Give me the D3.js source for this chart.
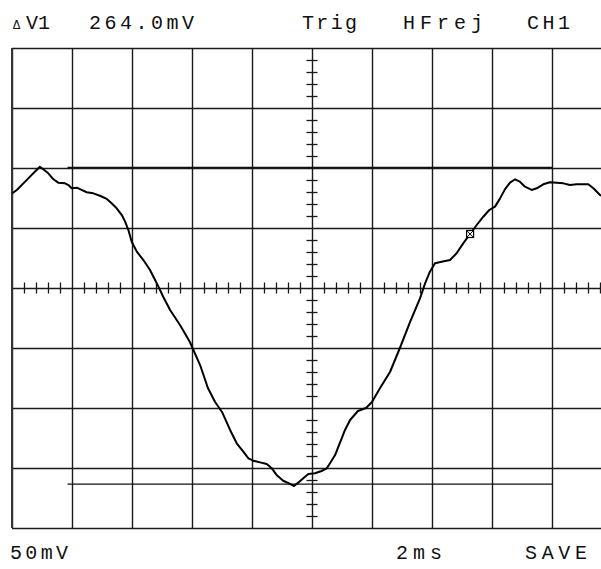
<!DOCTYPE html>
<html>
<head>
<meta charset="utf-8">
<script src="https://cdn.jsdelivr.net/npm/d3@7/dist/d3.min.js"></script>
<style>
  html, body { margin: 0; padding: 0; background: #fff; }
  svg { display: block; }
  .lbl { font-family: "Liberation Mono", "DejaVu Sans Mono", monospace; font-size: 20px; fill: #111; }
</style>
</head>
<body>
<svg id="scope" width="601" height="569"></svg>
<script>
// Screen: 10 divisions of 2 ms, 8 divisions of 50 mV
const timeDomainMs = [-10, 10];
const voltDomainMv = [-200, 200];
const timeDivisionsMs = [-10, -8, -6, -4, -2, 0, 2, 4, 6, 8, 10];
const voltDivisionsMv = [-200, -150, -100, -50, 0, 50, 100, 150, 200];

// Captured trace (time in ms, amplitude in mV)
const traceTimeMs = [
  -9.99, -9.84, -9.62, -9.40, -9.18, -9.07, -8.96, -8.79, -8.62, -8.46,
  -8.23, -8.12, -8.01, -7.84, -7.68, -7.51, -7.29, -7.07, -6.84, -6.68,
  -6.51, -6.34, -6.23, -6.12, -6.01, -5.84, -5.62, -5.40, -5.23, -5.12,
  -4.96, -4.73, -4.40, -4.07, -3.73, -3.47, -3.23, -3.00, -2.73, -2.51,
  -2.29, -2.12, -1.96, -1.73, -1.51, -1.34, -1.18, -0.96, -0.73, -0.60,
  -0.46, -0.29, -0.12, 0.10, 0.32, 0.49, 0.60, 0.77, 0.88, 0.99,
  1.10, 1.27, 1.53, 1.80, 2.00, 2.27, 2.60, 2.93, 3.27, 3.60,
  3.77, 3.93, 4.10, 4.32, 4.60, 4.82, 5.04, 5.27, 5.49, 5.71,
  5.91, 6.10, 6.27, 6.43, 6.60, 6.77, 6.93, 7.10, 7.32, 7.49,
  7.71, 7.93, 8.16, 8.38, 8.60, 8.82, 9.21, 9.38, 9.60, 9.80
];
const traceVoltMv = [
  78.9, 81.7, 87.2, 92.8, 98.3, 101.1, 98.9, 95.6, 90.6, 87.8,
  87.2, 85.8, 83.1, 83.6, 81.7, 79.8, 78.9, 76.9, 74.2, 70.6,
  66.4, 60.8, 55.3, 48.3, 38.6, 30.3, 23.3, 15.0, 6.7, 1.1,
  -7.3, -18.3, -30.8, -45.0, -64.2, -83.3, -95.0, -103.3, -118.3, -129.4,
  -136.4, -141.9, -143.9, -145.3, -146.7, -150.3, -155.8, -160.6, -163.3, -165.0,
  -162.2, -158.6, -155.0, -154.4, -152.5, -150.3, -146.1, -139.2, -132.2, -125.3,
  -118.3, -110.0, -102.5, -100.0, -95.0, -83.3, -70.0, -50.0, -28.3, -8.6,
  3.9, 13.6, 20.6, 21.9, 23.3, 28.9, 37.2, 45.0, 52.5, 59.4,
  65.0, 67.8, 74.7, 82.2, 87.8, 90.6, 88.6, 84.4, 81.7, 83.1,
  86.4, 88.1, 87.8, 87.2, 85.8, 86.4, 86.4, 83.1, 77.5, 75.0
];

// Voltage cursors (ΔV = 264.0 mV) and their horizontal extent
const cursorVoltMv = [-163.5, 100.5];
const cursorSpanMs = [-8.15, 8.0];

// Trigger point marker on the trace
const markerTimeMs = [5.27];
const markerVoltMv = [45.0];

// Readouts
const headerLabels = ["264.0mV", "Trig", "HFrej", "CH1"];
const footerLabels = ["50mV", "2ms", "SAVE"];

const svg = d3.select("#scope");
const W = 601, H = 569;
const padLeft = 12, padTop = 48, divPx = 60;

const x = d3.scaleLinear().domain(timeDomainMs).range([padLeft, padLeft + 10 * divPx]);
const y = d3.scaleLinear().domain(voltDomainMv).range([padTop + 8 * divPx, padTop]);

svg.append("rect").attr("width", W).attr("height", H).attr("fill", "#fff");

const plot = svg.append("g");

// Graticule: vertical division lines
const gx = plot.append("g")
  .attr("transform", `translate(0,${y(voltDomainMv[0])})`)
  .call(d3.axisBottom(x).tickValues(timeDivisionsMs).tickSize(-(y(voltDomainMv[0]) - y(voltDomainMv[1]))).tickFormat(""));
gx.select(".domain").remove();
gx.selectAll(".tick line").attr("stroke", "#1a1a1a").attr("stroke-width", 1.4);

// Graticule: horizontal division lines
const gy = plot.append("g")
  .attr("transform", `translate(${x(timeDomainMs[0])},0)`)
  .call(d3.axisLeft(y).tickValues(voltDivisionsMv).tickSize(-(x(timeDomainMs[1]) - x(timeDomainMs[0]))).tickFormat(""));
gy.select(".domain").remove();
gy.selectAll(".tick line").attr("stroke", "#1a1a1a").attr("stroke-width", 1.4);

// Minor ticks on the centre axes (5 per division)
const minorT = d3.range(-25, 26).filter(i => i % 5 !== 0).map(i => i * 0.4);
const minorV = d3.range(-20, 21).filter(i => i % 5 !== 0).map(i => i * 10);
const tickHalf = 5.5;

const mx = plot.append("g")
  .attr("transform", `translate(0,${y(0) - tickHalf})`)
  .call(d3.axisBottom(x).tickValues(minorT).tickSize(tickHalf * 2).tickFormat(""));
mx.select(".domain").remove();
mx.selectAll(".tick line").attr("stroke", "#1a1a1a").attr("stroke-width", 1.3);

const my = plot.append("g")
  .attr("transform", `translate(${x(0) - tickHalf},0)`)
  .call(d3.axisRight(y).tickValues(minorV).tickSize(tickHalf * 2).tickFormat(""));
my.select(".domain").remove();
my.selectAll(".tick line").attr("stroke", "#1a1a1a").attr("stroke-width", 1.3);

// Left border slightly heavier
plot.append("line")
  .attr("x1", x(timeDomainMs[0])).attr("x2", x(timeDomainMs[0]))
  .attr("y1", y(voltDomainMv[1])).attr("y2", y(voltDomainMv[0]))
  .attr("stroke", "#333").attr("stroke-width", 2);

// Voltage cursors
plot.selectAll("line.cursor")
  .data(cursorVoltMv)
  .join("line")
  .attr("class", "cursor")
  .attr("x1", x(cursorSpanMs[0])).attr("x2", x(cursorSpanMs[1]))
  .attr("y1", d => y(d)).attr("y2", d => y(d))
  .attr("stroke", "#111").attr("stroke-width", 1.3);

// Trace
const trace = traceTimeMs.map((t, i) => [t, traceVoltMv[i]]);
plot.append("path")
  .datum(trace)
  .attr("fill", "none")
  .attr("stroke", "#000")
  .attr("stroke-width", 2)
  .attr("stroke-linejoin", "round")
  .attr("d", d3.line().x(d => x(d[0])).y(d => y(d[1])));

// Marker: small boxed cross
const mk = plot.selectAll("g.marker")
  .data(markerTimeMs.map((t, i) => [t, markerVoltMv[i]]))
  .join("g")
  .attr("class", "marker")
  .attr("transform", d => `translate(${x(d[0])},${y(d[1])})`);
mk.append("rect").attr("x", -3.5).attr("y", -3.5).attr("width", 7).attr("height", 7)
  .attr("fill", "#fff").attr("stroke", "#000").attr("stroke-width", 1.2);
mk.append("path").attr("d", "M-3,-3L3,3M3,-3L-3,3").attr("stroke", "#000").attr("stroke-width", 1);

// Readout text
const headerX = [89, 302, 403, 527];
const headerW = [105, 55, 80, 43];
const footerX = [10, 396, 525];
const footerW = [58, 46, 62];

const delta = svg.append("text").attr("class", "lbl").attr("x", 13).attr("y", 29);
delta.append("tspan").attr("font-size", 12).text("Δ");
delta.append("tspan").attr("x", 26).attr("textLength", 24).attr("lengthAdjust", "spacing").text("V1");

svg.selectAll("text.head")
  .data(headerLabels)
  .join("text")
  .attr("class", "lbl head")
  .attr("x", (d, i) => headerX[i]).attr("y", 29)
  .attr("textLength", (d, i) => headerW[i]).attr("lengthAdjust", "spacing")
  .text(d => d);

svg.selectAll("text.foot")
  .data(footerLabels)
  .join("text")
  .attr("class", "lbl foot")
  .attr("x", (d, i) => footerX[i]).attr("y", 559)
  .attr("textLength", (d, i) => footerW[i]).attr("lengthAdjust", "spacing")
  .text(d => d);
</script>
</body>
</html>
